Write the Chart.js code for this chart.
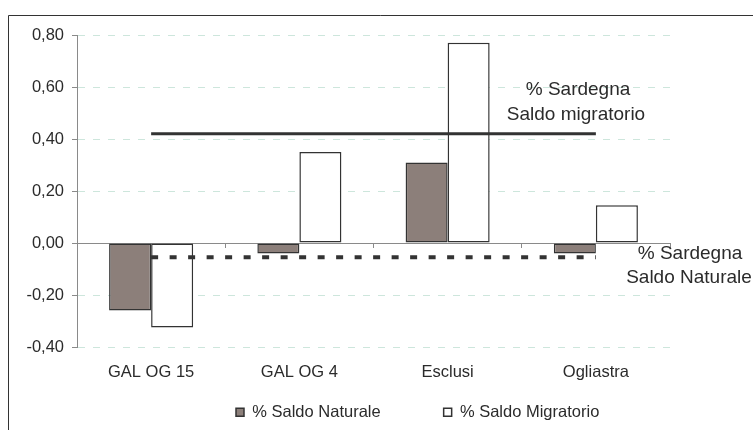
<!DOCTYPE html>
<html>
<head>
<meta charset="utf-8">
<script src="https://cdn.jsdelivr.net/npm/chart.js@4"></script>
<style>
html,body{margin:0;padding:0;background:#fff;}
#wrap{position:relative;width:753px;height:430px;}
</style>
</head>
<body>
<div id="wrap"><canvas id="c" width="753" height="430"></canvas></div>
<script>
const categories = ['GAL OG 15', 'GAL OG 4', 'Esclusi', 'Ogliastra'];
const saldoNaturale = [-0.26, -0.04, 0.31, -0.04];
const saldoMigratorio = [-0.325, 0.35, 0.77, 0.145];
const sardegnaMigratorio = [0.42, 0.42, 0.42, 0.42];
const sardegnaNaturale = [-0.055, -0.055, -0.055, -0.055];
const yTicks = [-0.4, -0.2, 0, 0.2, 0.4, 0.6, 0.8];
const seriesNames = ['% Saldo Naturale', '% Saldo Migratorio'];
const refLineNames = ['% Sardegna Saldo migratorio', '% Sardegna Saldo Naturale'];
const refLabelMigratorio = ['% Sardegna', 'Saldo migratorio'];
const refLabelNaturale = ['% Sardegna', 'Saldo Naturale'];

const FONT = "'Liberation Sans', Arial, sans-serif";
const TEXT = '#2b2b2b';
const AXIS = '#8a8a8a';
const GRID = '#cde6dc';

Chart.defaults.font.family = FONT;
Chart.defaults.font.size = 16.5;
Chart.defaults.color = TEXT;

const placer = {
  id: 'placer',
  afterLayout(chart) {
    const lg = chart.legend;
    if (!lg) return;
    const p = lg.options.labels.padding;
    lg.top = 404 - p;
    lg.bottom = 430;
    lg.height = lg.bottom - lg.top;
    lg.left = 236 - p;
    lg.right = 753;
    lg.width = lg.right - lg.left;
  },
  beforeDraw(chart) {
    const ctx = chart.ctx;
    ctx.save();
    ctx.strokeStyle = '#333';
    ctx.lineWidth = 1;
    ctx.beginPath();
    ctx.moveTo(8.5, 430);
    ctx.lineTo(8.5, 15.5);
    ctx.lineTo(753, 15.5);
    ctx.stroke();
    ctx.restore();
  },
  afterDatasetsDraw(chart) {
    const ctx = chart.ctx;
    ctx.save();
    ctx.fillStyle = TEXT;
    ctx.font = "19px " + FONT;
    ctx.textAlign = 'center';
    ctx.textBaseline = 'middle';
    ctx.fillText(refLabelMigratorio[0], 578, 90);
    ctx.fillText(refLabelMigratorio[1], 576, 115);
    ctx.fillText(refLabelNaturale[0], 690, 254);
    ctx.fillText(refLabelNaturale[1], 689, 278);
    ctx.restore();
  }
};

new Chart(document.getElementById('c'), {
  data: {
    labels: categories,
    datasets: [
      {
        type: 'bar', label: seriesNames[0], data: saldoNaturale,
        backgroundColor: '#8c7f7a', borderColor: '#333', borderWidth: 1.5,
        borderSkipped: false, barPercentage: 1, categoryPercentage: 0.567, order: 2
      },
      {
        type: 'bar', label: seriesNames[1], data: saldoMigratorio,
        backgroundColor: '#ffffff', borderColor: '#333', borderWidth: 1.5,
        borderSkipped: false, barPercentage: 1, categoryPercentage: 0.567, order: 2
      },
      {
        type: 'line', label: refLineNames[0], data: sardegnaMigratorio,
        borderColor: '#333', borderWidth: 3, pointRadius: 0, fill: false,
        borderCapStyle: 'butt', order: 1
      },
      {
        type: 'line', label: refLineNames[1], data: sardegnaNaturale,
        borderColor: '#333', borderWidth: 4, borderDash: [7, 11.5], pointRadius: 0,
        fill: false, borderCapStyle: 'butt', order: 1
      }
    ]
  },
  options: {
    responsive: false,
    animation: false,
    devicePixelRatio: 1,
    layout: { padding: { left: 0, right: 83, top: 35, bottom: 0 } },
    plugins: {
      tooltip: { enabled: false },
      legend: {
        display: true,
        position: 'bottom',
        align: 'start',
        maxHeight: 40,
        labels: {
          boxWidth: 8, boxHeight: 8, padding: 63,
          font: { size: 16.5 }, color: TEXT,
          filter: (item) => item.datasetIndex < 2
        }
      }
    },
    scales: {
      x: {
        type: 'category',
        position: 'bottom',
        offset: true,
        grid: { display: false, drawTicks: false, offset: true },
        border: { display: false },
        ticks: { padding: 16, maxRotation: 0, autoSkip: false, color: TEXT },
        afterFit: (s) => { s.height = 43; }
      },
      x0: {
        type: 'category',
        axis: 'x',
        position: { y: 0 },
        offset: true,
        grid: { display: true, offset: true, drawOnChartArea: false, drawTicks: true,
                tickLength: 4, tickColor: AXIS, color: AXIS, lineWidth: 1 },
        border: { display: true, color: AXIS, width: 1 },
        ticks: { display: false }
      },
      y: {
        type: 'linear',
        position: 'left',
        min: yTicks[0],
        max: yTicks[yTicks.length - 1],
        afterBuildTicks: (s) => { s.ticks = yTicks.map(v => ({ value: v })); },
        ticks: {
          padding: 8, color: TEXT,
          callback: (v) => Number(v).toFixed(2).replace('.', ',')
        },
        grid: {
          color: (ctx) => (ctx.tick && ctx.tick.value === 0) ? 'rgba(0,0,0,0)' : GRID,
          lineWidth: 1,
          tickLength: 5,
          tickColor: AXIS,
          tickWidth: 1,
          tickBorderDash: []
        },
        border: {
          display: true, color: AXIS, width: 1,
          dash: (ctx) => (ctx.type === 'tick' ? [7, 8] : [])
        },
        afterFit: (s) => { s.width = 77; }
      }
    }
  },
  plugins: [placer]
});
</script>
</body>
</html>
